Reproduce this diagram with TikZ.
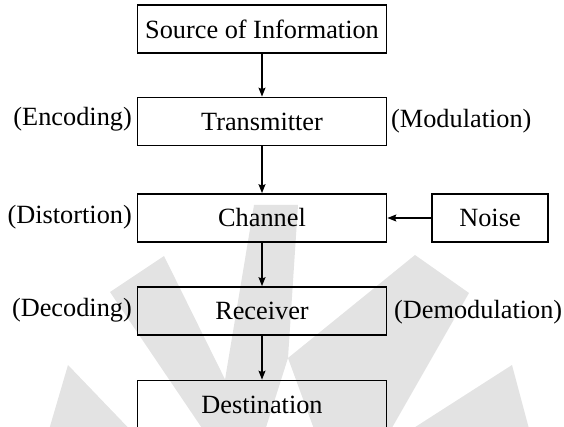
\documentclass[tikz,border=0pt]{standalone}
\usepackage{fontspec}
\setmainfont{Liberation Serif}
\usetikzlibrary{arrows.meta}
\begin{document}
\begin{tikzpicture}[x=1pt,y=-1pt,
  every node/.style={font=\fontsize{26.3}{30}\selectfont},
  blk/.style={draw=black, line width=1.7pt, minimum width=249pt,
    minimum height=48pt, inner sep=0pt},
  lbl/.style={inner sep=0pt},
  flow/.style={line width=1.2pt, -{Stealth[length=9pt,width=7pt,inset=1.5pt]}},
  fan/.style={fill=black!11, draw=none}]
\useasboundingbox (0,0) rectangle (564,427);

% faint fan emblem in the background
\fill[fan] (68,365) -- (46,440) -- (140,440) -- cycle;
\fill[fan] (110,292) -- (164,256) -- (255,440) -- (210,440) -- cycle;
\fill[fan] (254,205) -- (298,205) -- (288,358) -- (262,440) -- (215,440) -- cycle;
\fill[fan] (415,255) -- (469,293) -- (385,440) -- (318,440) -- (288,358) -- cycle;
\fill[fan] (512,365) -- (532,440) -- (395,440) -- cycle;

% chain of blocks
\node[blk] (src)   at (262,29)    {Source of Information};
\node[blk] (tx)    at (262,121.5) {Transmitter};
\node[blk] (ch)    at (262,218)   {Channel};
\node[blk] (rx)    at (262,311)   {Receiver};
\node[blk] (dst)   at (262,404.5) {Destination};
\node[blk, minimum width=116pt] (noise) at (490,218) {Noise};

% side notes
\node[lbl, anchor=east] (enc)   at (132,119) {(Encoding)};
\node[lbl, anchor=west] (mod)   at (391,121) {(Modulation)};
\node[lbl, anchor=east] (dis)   at (132,217) {(Distortion)};
\node[lbl, anchor=east] (dec)   at (132,310) {(Decoding)};
\node[lbl, anchor=west] (demod) at (394,312) {(Demodulation)};

% signal flow
\draw[flow] (src) -- (tx);
\draw[flow] (tx) -- (ch);
\draw[flow] (ch) -- (rx);
\draw[flow] (rx) -- (dst);
\draw[flow] (noise) -- (ch);
\end{tikzpicture}
\end{document}
